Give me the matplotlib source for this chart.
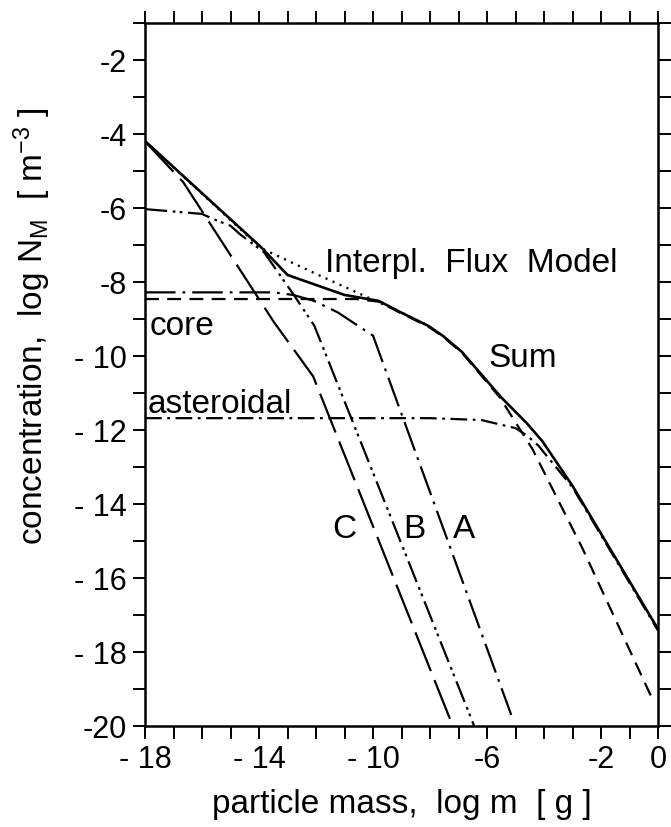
import matplotlib
matplotlib.use("Agg")
import matplotlib.pyplot as plt

plt.rcParams['font.family'] = ['Liberation Sans', 'DejaVu Sans']
plt.rcParams['mathtext.default'] = 'regular'
plt.rcParams['lines.scale_dashes'] = False

# ---------------- data (log m [g], log N [m^-3]) ----------------
sum_x = [-18, -13.94, -13.0, -11.0, -9.8, -9.05, -8.05, -7.54, -6.88, -5.5, -4.6, -4.06, -3.0, 0]
sum_y = [-4.19, -7.05, -7.81, -8.35, -8.51, -8.81, -9.19, -9.46, -9.89, -11.12, -11.82, -12.3, -13.51, -17.38]

interp_x = [-18, -13.94, -12.0, -10.06, -9.05, -8.05]
interp_y = [-4.19, -7.08, -7.78, -8.46, -8.81, -9.19]

core_x = [-18, -10.6, -9.8, -9.05, -8.05, -7.54, -6.88, -5.55, -4.41, -2.65, -0.15]
core_y = [-8.46, -8.46, -8.53, -8.83, -9.21, -9.48, -9.91, -11.12, -12.51, -15.2, -19.35]

a_x = [-18, -13.5, -12.8, -12.07, -11.24, -10.0, -5.15]
a_y = [-8.28, -8.28, -8.35, -8.51, -8.82, -9.45, -19.7]

b_x = [-18, -16.0, -15.6, -15.0, -14.65, -13.82, -12.76, -12.06, -6.45]
b_y = [-6.03, -6.16, -6.3, -6.48, -6.72, -7.2, -8.37, -9.18, -20.0]

c_x = [-18, -16.66, -13.48, -12.1, -7.2]
c_y = [-4.2, -5.3, -9.08, -10.55, -20.0]

ast_x = [-18, -8.0, -6.2, -5.0, -4.6, -4.2, -3.0, 0]
ast_y = [-11.68, -11.68, -11.73, -11.95, -12.15, -12.42, -13.55, -17.42]

x_ticks = list(range(-18, 1))
x_ticklabels = {-18: "- 18", -14: "- 14", -10: "- 10", -6: "-6", -2: "-2", 0: "0"}
y_ticks = list(range(-20, 0))
y_ticklabels = {-2: "-2", -4: "-4", -6: "-6", -8: "-8", -10: "- 10", -12: "- 12",
                -14: "- 14", -16: "- 16", -18: "- 18", -20: "-20"}

# ---------------- figure ----------------
fig = plt.figure(figsize=(6.71, 8.28), dpi=100)
ax = fig.add_axes([145 / 671, 101 / 828, 513 / 671, 703 / 828])

k = 'black'
ax.plot(sum_x, sum_y, color=k, lw=1.9, ls='-')
ax.plot(interp_x, interp_y, color=k, lw=1.7, ls=(0, (1.5, 4)))
ax.plot(core_x, core_y, color=k, lw=1.6, ls=(0, (10, 6)))
ax.plot(a_x, a_y, color=k, lw=1.6, ls=(0, (22, 5, 2, 5)))
ax.plot(b_x, b_y, color=k, lw=1.6, ls=(0, (16, 4, 2, 3, 2, 4)))
ax.plot(c_x, c_y, color=k, lw=1.6, ls=(0, (30, 7)))
ax.plot(ast_x, ast_y, color=k, lw=1.6, ls=(0, (12, 4, 2, 4)))

fs = 24
ax.text(-11.68, -7.7, "Interpl.  Flux  Model", fontsize=fs, va='baseline')
ax.text(-5.96, -10.27, "Sum", fontsize=fs, va='baseline')
ax.text(-17.85, -9.41, "core", fontsize=fs, va='baseline')
ax.text(-17.9, -11.51, "asteroidal", fontsize=fs, va='baseline')
ax.text(-11.44, -14.89, "C", fontsize=fs, va='baseline')
ax.text(-8.95, -14.89, "B", fontsize=fs, va='baseline')
ax.text(-7.19, -14.89, "A", fontsize=fs, va='baseline')

ax.set_xlim(-18, 0)
ax.set_ylim(-20, -1)
ax.set_xticks(x_ticks)
ax.set_xticklabels([x_ticklabels.get(t, "") for t in x_ticks])
ax.set_yticks(y_ticks)
ax.set_yticklabels([y_ticklabels.get(t, "") for t in y_ticks])
ax.tick_params(direction='out', length=9, width=1.4, top=True, right=True,
               labelsize=22, pad=4)
for s in ax.spines.values():
    s.set_linewidth(1.8)

ax.set_xlabel("particle mass,  log m  [ g ]", fontsize=fs, va='center')
ax.xaxis.set_label_coords(0.5, -0.11)
ax.set_ylabel(r"concentration,  log N$_M$  [ m$^{-3}$ ]", fontsize=fs, va='center')
ax.yaxis.set_label_coords(-0.22, 0.57)

fig.savefig("out.png", dpi=100)
plt.close(fig)
